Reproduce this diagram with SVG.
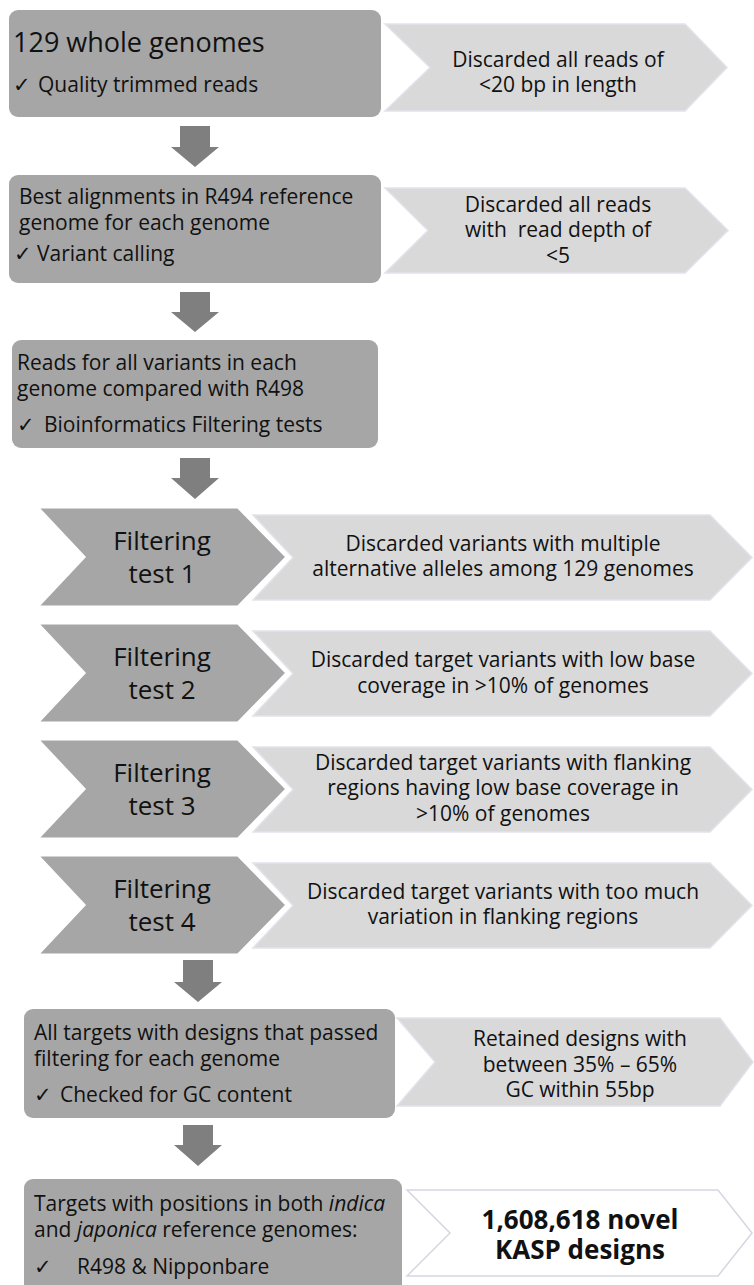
<svg xmlns="http://www.w3.org/2000/svg" width="754" height="1285" viewBox="0 0 754 1285">
<style>
  text { font-family: "Open Sans", "Noto Sans", "DejaVu Sans", sans-serif; fill: #111; }
  .box { fill: #a6a6a6; }
  .dark { fill: #a6a6a6; stroke: #ffffff; stroke-width: 3; stroke-linejoin: miter; }
  .light { fill: #d9d9d9; stroke: #e2e2ec; stroke-width: 1.5; }
  .white { fill: #ffffff; stroke: #d6d6e2; stroke-width: 1.5; }
  .arrow { fill: #7f7f7f; }
  .t21 { font-size: 21px; }
  .t26 { font-size: 26px; }
  .t27 { font-size: 27px; }
  .c { text-anchor: middle; }
  .bold { font-weight: bold; font-size: 26px; }
  .chk { font-family: "DejaVu Sans", sans-serif; font-size: 21px; }
</style>

<g id="connectors">
  <polygon class="arrow" points="180,126 210,126 210,147 219,147 195,167 171,147 180,147"/>
  <polygon class="arrow" points="180,292 210,292 210,312 219,312 195,332 171,312 180,312"/>
  <polygon class="arrow" points="180,458 210,458 210,478 219,478 195,499 171,478 180,478"/>
  <polygon class="arrow" points="183,960 213,960 213,982 222,982 198,1002 174,982 183,982"/>
  <polygon class="arrow" points="183,1125 213,1125 213,1145 222,1145 198,1166 174,1145 183,1145"/>
</g>

<g id="step1">
  <rect class="box" x="9" y="10" width="372" height="107" rx="9"/>
  <text class="t27" x="13" y="52">129 whole genomes</text>
  <text class="t21" y="92"><tspan class="chk" x="13">✓</tspan><tspan x="38">Quality trimmed reads</tspan></text>
</g>
<g id="filter-length">
  <polygon class="light" points="385,24 685,24 727,67.5 685,111 385,111 430,67.5"/>
  <text class="t21 c" x="558" y="67">Discarded all reads of</text>
  <text class="t21 c" x="558" y="92">&lt;20 bp in length</text>
</g>

<g id="step2">
  <rect class="box" x="9" y="175" width="372" height="108" rx="9"/>
  <text class="t21" x="19" y="204">Best alignments in R494 reference</text>
  <text class="t21" x="19" y="230">genome for each genome</text>
  <text class="t21" y="261"><tspan class="chk" x="14">✓</tspan><tspan x="37">Variant calling</tspan></text>
</g>
<g id="filter-depth">
  <polygon class="light" points="385,188 685,188 728,230.5 685,273 385,273 428,230.5"/>
  <text class="t21 c" x="558" y="212">Discarded all reads</text>
  <text class="t21 c" x="558" y="237" xml:space="preserve">with  read depth of</text>
  <text class="t21 c" x="558" y="263">&lt;5</text>
</g>

<g id="step3">
  <rect class="box" x="12" y="340" width="366" height="108" rx="9"/>
  <text class="t21" x="17" y="370">Reads for all variants in each</text>
  <text class="t21" x="17" y="396">genome compared with R498</text>
  <text class="t21" y="432"><tspan class="chk" x="17">✓</tspan><tspan x="44">Bioinformatics Filtering tests</tspan></text>
</g>

<g id="test1">
  <polygon class="light" points="253,515 710,515 752,557.5 710,600 253,600 293,557.5"/>
  <polygon class="dark" points="37,507 238,507 287,557 238,607 37,607 84,557"/>
  <text class="t26 c" x="162" y="550">Filtering</text>
  <text class="t26 c" x="162" y="583">test 1</text>
  <text class="t21 c" x="503" y="551">Discarded variants with multiple</text>
  <text class="t21 c" x="503" y="576">alternative alleles among 129 genomes</text>
</g>

<g id="test2">
  <polygon class="light" points="253,631 710,631 752,673.5 710,716 253,716 293,673.5"/>
  <polygon class="dark" points="37,623 238,623 287,673 238,723 37,723 84,673"/>
  <text class="t26 c" x="162" y="666">Filtering</text>
  <text class="t26 c" x="162" y="699">test 2</text>
  <text class="t21 c" x="503" y="667">Discarded target variants with low base</text>
  <text class="t21 c" x="503" y="693">coverage in &gt;10% of genomes</text>
</g>

<g id="test3">
  <polygon class="light" points="253,747 710,747 752,789.5 710,832 253,832 293,789.5"/>
  <polygon class="dark" points="37,739 238,739 287,789 238,839 37,839 84,789"/>
  <text class="t26 c" x="162" y="782">Filtering</text>
  <text class="t26 c" x="162" y="815">test 3</text>
  <text class="t21 c" x="503" y="770">Discarded target variants with flanking</text>
  <text class="t21 c" x="503" y="795">regions having low base coverage in</text>
  <text class="t21 c" x="503" y="821">&gt;10% of genomes</text>
</g>

<g id="test4">
  <polygon class="light" points="253,863 710,863 752,905.5 710,948 253,948 293,905.5"/>
  <polygon class="dark" points="37,855 238,855 287,905 238,955 37,955 84,905"/>
  <text class="t26 c" x="162" y="898">Filtering</text>
  <text class="t26 c" x="162" y="931">test 4</text>
  <text class="t21 c" x="503" y="899">Discarded target variants with too much</text>
  <text class="t21 c" x="503" y="924">variation in flanking regions</text>
</g>

<g id="step4">
  <rect class="box" x="24" y="1009" width="371" height="109" rx="9"/>
  <text class="t21" x="34" y="1040">All targets with designs that passed</text>
  <text class="t21" x="34" y="1066">filtering for each genome</text>
  <text class="t21" y="1102"><tspan class="chk" x="34">✓</tspan><tspan x="60">Checked for GC content</tspan></text>
</g>
<g id="filter-gc">
  <polygon class="light" points="397,1018 720,1018 753,1062 720,1106 397,1106 435,1062"/>
  <text class="t21 c" x="580" y="1046">Retained designs with</text>
  <text class="t21 c" x="580" y="1072">between 35% – 65%</text>
  <text class="t21 c" x="580" y="1097">GC within 55bp</text>
</g>

<g id="step5">
  <rect class="box" x="24" y="1179" width="378" height="116" rx="9"/>
  <text class="t21" x="34" y="1211">Targets with positions in both <tspan font-style="italic">indica</tspan></text>
  <text class="t21" x="34" y="1237">and <tspan font-style="italic">japonica</tspan> reference genomes:</text>
  <text class="t21" y="1274"><tspan class="chk" x="34">✓</tspan><tspan x="77">R498 &amp; Nipponbare</tspan></text>
</g>
<g id="result">
  <polygon class="white" points="407,1190 718,1190 752,1233 718,1276 407,1276 450,1233"/>
  <text class="bold c" x="580" y="1229">1,608,618 novel</text>
  <text class="bold c" x="580" y="1259">KASP designs</text>
</g>
</svg>
